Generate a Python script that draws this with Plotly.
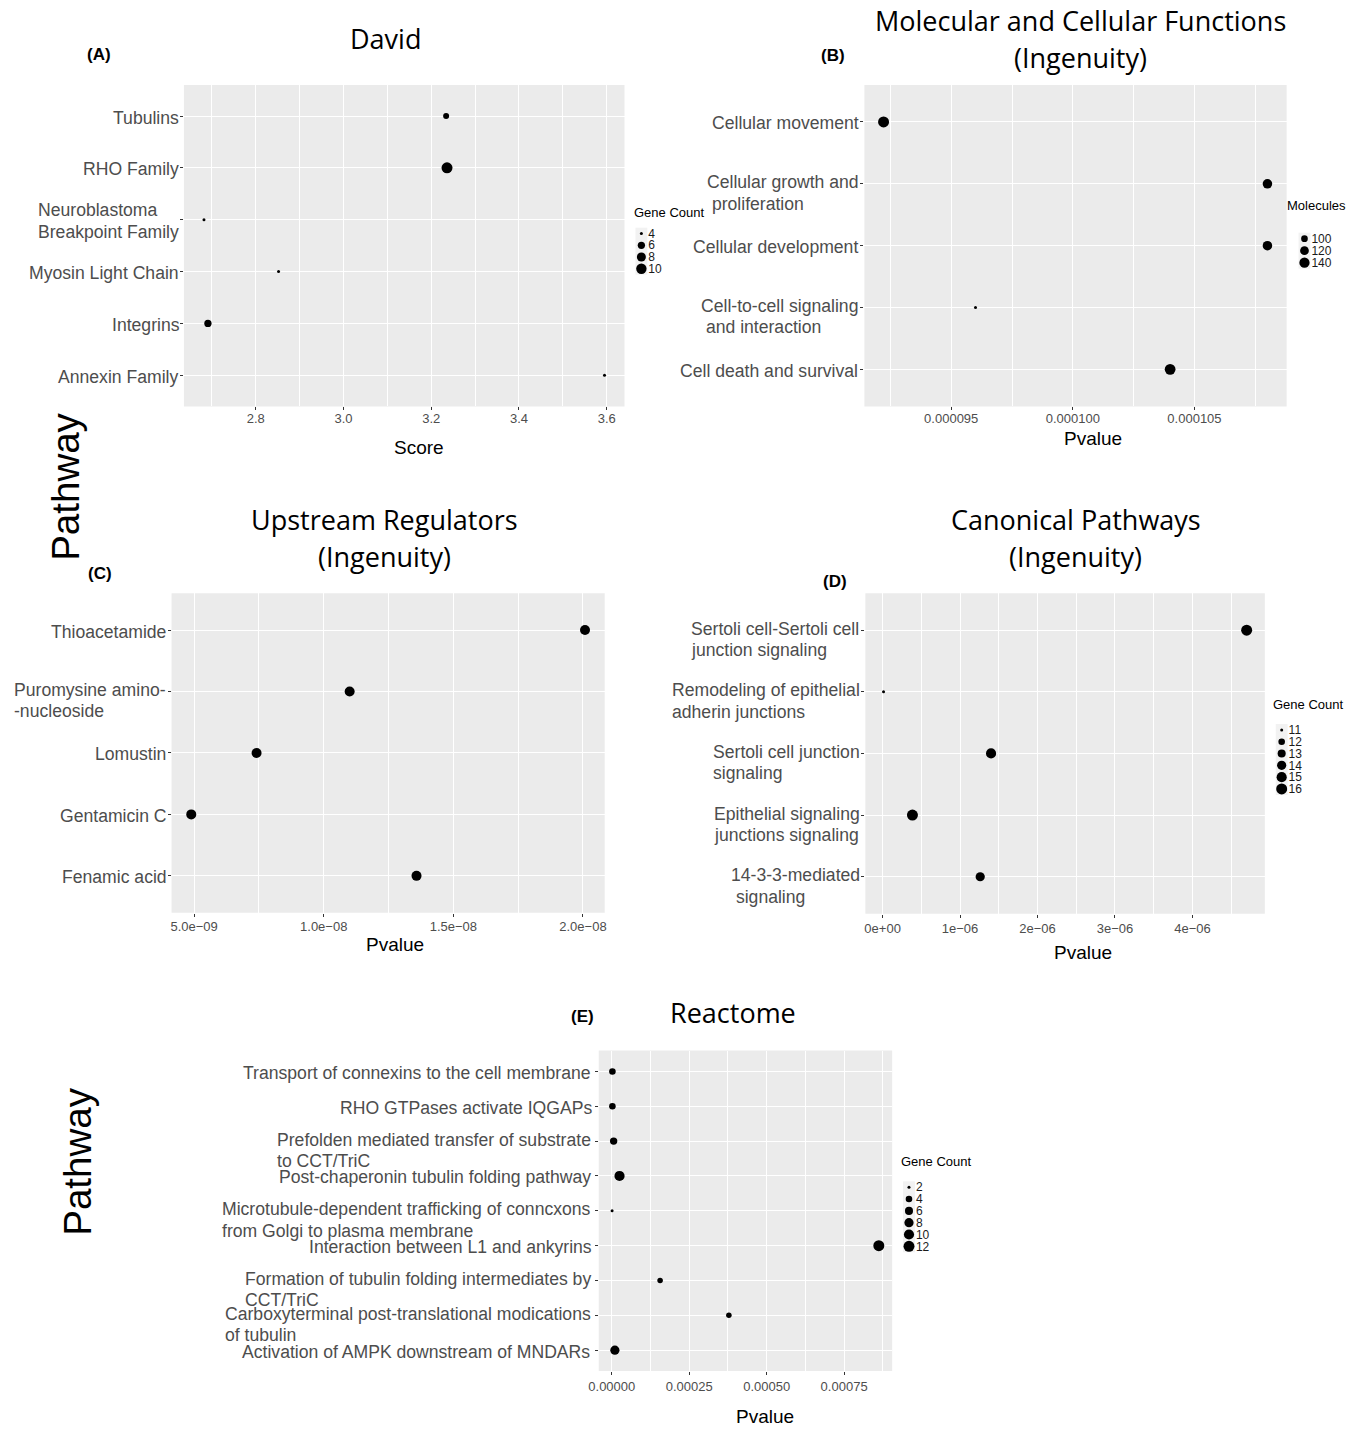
import math
import plotly.graph_objects as go

W, H = 1359, 1429

# ---------------- data ----------------
# (A) David
a_terms = ["Tubulins", "RHO Family", "Neuroblastoma<br>Breakpoint Family",
           "Myosin Light Chain", "Integrins", "Annexin Family"]
a_score = [3.234, 3.236, 2.682, 2.852, 2.691, 3.595]
a_genes = [5, 11, 4, 4, 6, 4]
a_breaks = [4, 6, 8, 10]

# (B) Molecular and Cellular Functions
b_terms = ["Cellular movement", "Cellular growth and<br>\u00a0proliferation",
           "Cellular development", "Cell-to-cell signaling<br>\u00a0and interaction",
           "Cell death and survival"]
b_pvalue = [9.222e-5, 1.0800e-4, 1.0800e-4, 9.60e-5, 1.040e-4]
b_molecules = [152, 130, 130, 86, 148]
b_breaks = [100, 120, 140]

# (C) Upstream Regulators
c_terms = ["Thioacetamide", "Puromysine amino-<br>-nucleoside", "Lomustin",
           "Gentamicin C", "Fenamic acid"]
c_pvalue = [2.008e-8, 1.100e-8, 7.41e-9, 4.89e-9, 1.358e-8]
c_ticks = [5e-9, 1e-8, 1.5e-8, 2e-8]
c_ticklabels = ["5.0e\u221209", "1.0e\u221208", "1.5e\u221208", "2.0e\u221208"]

# (D) Canonical Pathways
d_terms = ["Sertoli cell-Sertoli cell<br>junction signaling",
           "Remodeling of epithelial<br>adherin junctions",
           "Sertoli cell junction<br>signaling",
           "Epithelial signaling<br>junctions signaling",
           "14-3-3-mediated<br>\u00a0signaling"]
d_pvalue = [4.70e-6, 1.2e-8, 1.40e-6, 3.85e-7, 1.26e-6]
d_genes = [16, 11, 15, 16, 14]
d_breaks = [11, 12, 13, 14, 15, 16]
d_ticks = [0, 1e-6, 2e-6, 3e-6, 4e-6]
d_ticklabels = ["0e+00", "1e\u221206", "2e\u221206", "3e\u221206", "4e\u221206"]

# (E) Reactome
e_terms = ["Transport of connexins to the cell membrane",
           "RHO GTPases activate IQGAPs",
           "Prefolden mediated transfer of substrate<br>to CCT/TriC",
           "Post-chaperonin tubulin folding pathway",
           "Microtubule-dependent trafficking of conncxons<br>from Golgi to plasma membrane",
           "Interaction between L1 and ankyrins",
           "Formation of tubulin folding intermediates by<br>CCT/TriC",
           "Carboxyterminal post-translational modications<br>of tubulin",
           "Activation of AMPK downstream of MNDARs"]
e_pvalue = [2e-6, 2e-6, 6e-6, 2.5e-5, 1e-6, 8.62e-4, 1.56e-4, 3.78e-4, 1e-5]
e_genes = [4, 4, 5, 10, 2, 12, 3, 3, 8]
e_breaks = [2, 4, 6, 8, 10, 12]

# ---------------- styling ----------------
FONT = "Liberation Sans, Arial, Helvetica, sans-serif"
TITLE_FONT = "Open Sans, Noto Sans, sans-serif"
PANEL_BG = "#EBEBEB"
KEY_BG = "#F2F2F2"
AXIS_TEXT = "#4D4D4D"
DOT = "black"
LABEL_SIZE = 17.6
LINE_H = 21.5

# Helvetica/Arial advance widths (1/1000 em), used to left-align wrapped label lines
_W = {" ": 278, "\u00a0": 278, "(": 333, ")": 333, "+": 584, ",": 278, "-": 333,
      ".": 278, "/": 278, ":": 278}
_W.update({d: 556 for d in "0123456789"})
_W.update(dict(zip("ABCDEFGHIJKLMNOPQRSTUVWXYZ",
                   [667, 667, 722, 722, 667, 611, 778, 722, 278, 500, 667, 556, 833,
                    722, 778, 667, 778, 722, 667, 611, 722, 667, 944, 667, 667, 611])))
_W.update(dict(zip("abcdefghijklmnopqrstuvwxyz",
                   [556, 556, 500, 556, 556, 278, 556, 556, 222, 222, 500, 222, 833,
                    556, 556, 556, 556, 333, 500, 278, 556, 500, 722, 500, 500, 500])))


def text_width(s, size):
    return sum(_W.get(c, 556) for c in s) * size / 1000.0


def px(x):
    return x / W


def py(y):
    return 1 - y / H


def expand(vals, frac=0.05):
    lo, hi = min(vals), max(vals)
    pad = (hi - lo) * frac
    return [lo - pad, hi + pad]


def diam(v, lo, hi, dmin=3.0, dmax=11.0):
    # area-style size scale: diameter grows with the square root of the rescaled value
    return dmin + (dmax - dmin) * math.sqrt((v - lo) / (hi - lo))


def ax_id(k):
    s = "" if k == 1 else str(k)
    return f"x{s}", f"y{s}", f"xaxis{s}", f"yaxis{s}"


fig = go.Figure()
annotations = []
shapes = []
layout_axes = {}

panels = [
    dict(k=1, terms=a_terms, x=a_score, s=a_genes, rng=(min(a_genes), max(a_genes)),
         frame=(175.5, 620, 84, 406), ticks=dict(tickmode="linear", tick0=0, dtick=0.2, tickformat=".1f"),
         minor=0.1, center=True, standoff=-3),
    dict(k=2, terms=b_terms, x=b_pvalue, s=b_molecules, rng=(min(b_molecules), max(b_molecules)),
         frame=(862, 1288, 84, 406), ticks=dict(tickmode="linear", tick0=0, dtick=5e-6, tickformat=".6f"),
         minor=2.5e-6, center=False, standoff=-3),
    dict(k=3, terms=c_terms, x=c_pvalue, s=None, rng=None,
         frame=(163, 600, 593, 913), ticks=dict(tickmode="array", tickvals=c_ticks, ticktext=c_ticklabels),
         minor=None, center=False, standoff=-1),
    dict(k=4, terms=d_terms, x=d_pvalue, s=d_genes, rng=(min(d_genes), max(d_genes)),
         frame=(863, 1266, 593, 914), ticks=dict(tickmode="array", tickvals=d_ticks, ticktext=d_ticklabels),
         minor=None, center=False, standoff=0),
    dict(k=5, terms=e_terms, x=e_pvalue, s=e_genes, rng=(min(e_genes), max(e_genes)),
         frame=(594, 890, 1051, 1372), ticks=dict(tickmode="linear", tick0=0, dtick=0.00025, tickformat=".5f"),
         minor=0.000125, center=False, standoff=0),
]

for p in panels:
    xa, ya, xkey, ykey = ax_id(p["k"])
    x0, x1, y0, y1 = p["frame"]
    n = len(p["terms"])
    cats = list(range(n))
    if p["s"] is None:
        sizes = [10] * n
    else:
        sizes = [diam(v, *p["rng"]) for v in p["s"]]
    fig.add_trace(go.Scatter(
        x=p["x"], y=cats, mode="markers", xaxis=xa, yaxis=ya,
        marker=dict(size=sizes, color=DOT, opacity=1, line=dict(width=0)),
        showlegend=False, hoverinfo="skip"))

    xr = expand(p["x"])
    if p["minor"] is not None:
        minor = dict(showgrid=True, gridcolor="white", gridwidth=0.6,
                     tickmode="linear", tick0=0, dtick=p["minor"], ticks="")
    else:
        mv = p["ticks"]["tickvals"]
        step = mv[1] - mv[0]
        mids = [mv[0] - step / 2] + [v + step / 2 for v in mv]
        minor = dict(showgrid=True, gridcolor="white", gridwidth=0.6,
                     tickmode="array", tickvals=mids, ticks="")
    layout_axes[xkey] = dict(
        domain=[px(x0), px(x1)], anchor=ya, range=xr, showgrid=True,
        gridcolor="white", gridwidth=1.2, zeroline=False, showline=False,
        ticks="outside", ticklen=3, tickcolor="#333333", tickwidth=1,
        ticklabelstandoff=p["standoff"],
        tickfont=dict(family=FONT, size=13, color=AXIS_TEXT),
        minor=minor, **p["ticks"])
    layout_axes[ykey] = dict(
        domain=[py(y1), py(y0)], anchor=xa, range=[n - 0.4, -0.6],
        tickmode="array", tickvals=cats, showticklabels=False,
        showgrid=True, gridcolor="white", gridwidth=1.2, zeroline=False,
        showline=False, ticks="outside", ticklen=3, tickcolor="#333333", tickwidth=1)
    shapes.append(dict(type="rect", xref=f"{xa} domain", yref=f"{ya} domain",
                       x0=0, x1=1, y0=0, y1=1, fillcolor=PANEL_BG,
                       line=dict(width=0), layer="below"))
    # category labels: text block right-aligned at the tick, wrapped lines left-aligned
    right = x0 - 5
    for i, t in enumerate(p["terms"]):
        lines = t.split("<br>")
        nl = len(lines)
        block_w = max(text_width(s, LABEL_SIZE) for s in lines) * 1.02
        block_left = right - block_w
        if p["center"]:
            top_shift = (nl - 1) * LINE_H / 2
        else:
            top_shift = 3 if nl > 1 else 0
        for j, s in enumerate(lines):
            annotations.append(dict(
                text=s, xref="paper", yref=ya, x=px(block_left), y=i, xanchor="left",
                yanchor="middle", yshift=top_shift - j * LINE_H - 1.5, borderpad=0,
                showarrow=False, font=dict(family=FONT, size=LABEL_SIZE, color=AXIS_TEXT)))

# ---------------- size keys ----------------
keys = [
    dict(k=6, title="Gene Count", breaks=a_breaks, rng=(min(a_genes), max(a_genes)),
         box=(631, 643, 227, 274), title_pos=(628, 212)),
    dict(k=7, title="Molecules", breaks=b_breaks, rng=(min(b_molecules), max(b_molecules)),
         box=(1300, 1312, 232, 268), title_pos=(1286, 205)),
    dict(k=8, title="Gene Count", breaks=d_breaks, rng=(min(d_genes), max(d_genes)),
         box=(1277, 1289, 724, 795), title_pos=(1272, 704)),
    dict(k=9, title="Gene Count", breaks=e_breaks, rng=(min(e_genes), max(e_genes)),
         box=(901, 913, 1182, 1253), title_pos=(897, 1162)),
]
for kk in keys:
    xa, ya, xkey, ykey = ax_id(kk["k"])
    bx0, bx1, by0, by1 = kk["box"]
    labels = [str(b) for b in kk["breaks"]]
    n = len(labels)
    fig.add_trace(go.Scatter(
        x=[kk["title"]] * n, y=labels, mode="markers", xaxis=xa, yaxis=ya,
        marker=dict(size=[diam(b, *kk["rng"]) for b in kk["breaks"]],
                    color=DOT, opacity=1, line=dict(width=0)),
        showlegend=False, hoverinfo="skip"))
    layout_axes[xkey] = dict(
        domain=[px(bx0), px(bx1)], anchor=ya, type="category",
        showgrid=False, zeroline=False, showline=False, showticklabels=False, ticks="")
    layout_axes[ykey] = dict(
        domain=[py(by1), py(by0)], anchor=xa, type="category",
        categoryorder="array", categoryarray=labels, range=[n - 0.5, -0.5],
        tickmode="array", tickvals=labels, ticktext=labels,
        side="right", showgrid=False, zeroline=False, showline=False, ticks="",
        tickfont=dict(family=FONT, size=12, color="#1A1A1A"))
    shapes.append(dict(type="rect", xref=f"{xa} domain", yref=f"{ya} domain",
                       x0=0, x1=1, y0=0, y1=1, fillcolor=KEY_BG,
                       line=dict(width=0), layer="below"))
    tx, ty = kk["title_pos"]
    annotations.append(dict(text=kk["title"], xref="paper", yref="paper",
                            x=px(tx), y=py(ty), xanchor="left", yanchor="middle",
                            showarrow=False, font=dict(family=FONT, size=13, color="black")))


# ---------------- titles and axis labels ----------------
def text(t, x, y, size, family=FONT, color="black", xanchor="center", angle=0, bold=False):
    annotations.append(dict(text=f"<b>{t}</b>" if bold else t, xref="paper", yref="paper",
                            x=px(x), y=py(y), xanchor=xanchor, yanchor="middle",
                            showarrow=False, textangle=angle,
                            font=dict(family=family, size=size, color=color)))


text("David", 379, 38, 27, TITLE_FONT)
text("Molecular and Cellular Functions", 1080, 20, 27, TITLE_FONT)
text("(Ingenuity)", 1080, 57, 27, TITLE_FONT)
text("Upstream Regulators", 378, 519, 27, TITLE_FONT)
text("(Ingenuity)", 378, 556, 27, TITLE_FONT)
text("Canonical Pathways", 1075, 519, 27, TITLE_FONT)
text("(Ingenuity)", 1075, 556, 27, TITLE_FONT)
text("Reactome", 729, 1013, 27, TITLE_FONT)

text("(A)", 90, 54, 17, bold=True)
text("(B)", 830, 55, 17, bold=True)
text("(C)", 91, 573, 17, bold=True)
text("(D)", 832, 581, 17, bold=True)
text("(E)", 578, 1017, 17, bold=True)

text("Score", 413, 447, 19)
text("Pvalue", 1093, 438, 19)
text("Pvalue", 388, 945, 19)
text("Pvalue", 1083, 953, 19)
text("Pvalue", 762, 1417, 19)

text("Pathway", 56, 487, 38.5, angle=-90)
text("Pathway", 68, 1162, 38.5, angle=-90)

fig.update_layout(
    width=W, height=H, margin=dict(l=0, r=0, t=0, b=0),
    paper_bgcolor="white", plot_bgcolor="rgba(0,0,0,0)",
    showlegend=False, annotations=annotations, shapes=shapes,
    font=dict(family=FONT), **layout_axes)

# the figure fills the page exactly, so drop the default body margin
fig.write_html("out.html",
               post_script="document.body.style.margin='0';document.body.style.overflow='hidden';")
